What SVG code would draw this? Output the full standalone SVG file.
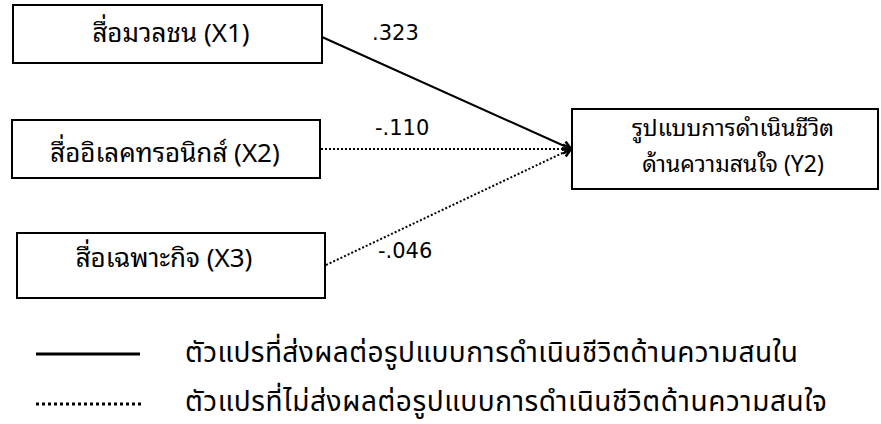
<svg xmlns="http://www.w3.org/2000/svg" width="881" height="424" viewBox="0 0 881 424">
<style>
.box{fill:#fff;stroke:#000;stroke-width:2}
.t{font-family:Tahoma,"Noto Sans Thai Looped","Noto Sans Thai","Noto Sans","DejaVu Sans",sans-serif;font-size:26px;fill:#000;text-anchor:middle}
.ty{font-size:23px}
.n{font-family:"DejaVu Sans","Noto Sans",sans-serif;font-size:21px;fill:#000}
.lg{font-family:"Noto Sans Thai","Noto Sans",sans-serif;font-size:28px;fill:#000}
.solid{stroke:#000;stroke-width:2;fill:none}
.dot{stroke:#000;stroke-width:2;fill:none;stroke-dasharray:2 2}
</style>
<defs>
<marker id="ah" markerWidth="12" markerHeight="12" refX="10" refY="6" orient="auto" markerUnits="userSpaceOnUse">
<path d="M2,1.5 L10,6 L2,10.5" fill="none" stroke="#000" stroke-width="2.5"/>
</marker>
</defs>
<g id="connectors">
<line class="solid" x1="322" y1="37" x2="571" y2="149" marker-end="url(#ah)"/>
<line class="dot" x1="321" y1="149" x2="571" y2="149" marker-end="url(#ah)"/>
<line class="dot" x1="326" y1="265" x2="571" y2="149" marker-end="url(#ah)"/>
<text class="n" x="372" y="40">.323</text>
<text class="n" x="375" y="135">-.110</text>
<text class="n" x="378" y="258">-.046</text>
</g>
<g id="x1"><rect class="box" x="13" y="5" width="309" height="58"/><text class="t" x="171" y="42">สื่อมวลชน (X1)</text></g>
<g id="x2"><rect class="box" x="12" y="120" width="308" height="58"/><text class="t" x="165" y="162">สื่ออิเลคทรอนิกส์ (X2)</text></g>
<g id="x3"><rect class="box" x="17" y="233" width="308" height="65"/><text class="t" x="164" y="267">สื่อเฉพาะกิจ (X3)</text></g>
<g id="y2"><rect class="box" x="572" y="109" width="306" height="80"/><text class="t ty" x="733" y="136">รูปแบบการดำเนินชีวิต</text><text class="t ty" x="733" y="172">ด้านความสนใจ (Y2)</text></g>
<g id="legend">
<line x1="36" y1="354" x2="140" y2="354" stroke="#000" stroke-width="3"/>
<line x1="36" y1="404" x2="142" y2="404" stroke="#000" stroke-width="3" stroke-dasharray="3 3"/>
<text class="lg" x="185" y="362" textLength="613">ตัวแปรที่ส่งผลต่อรูปแบบการดำเนินชีวิตด้านความสนใน</text>
<text class="lg" x="185" y="411" textLength="642">ตัวแปรที่ไม่ส่งผลต่อรูปแบบการดำเนินชีวิตด้านความสนใจ</text>
</g>
</svg>
